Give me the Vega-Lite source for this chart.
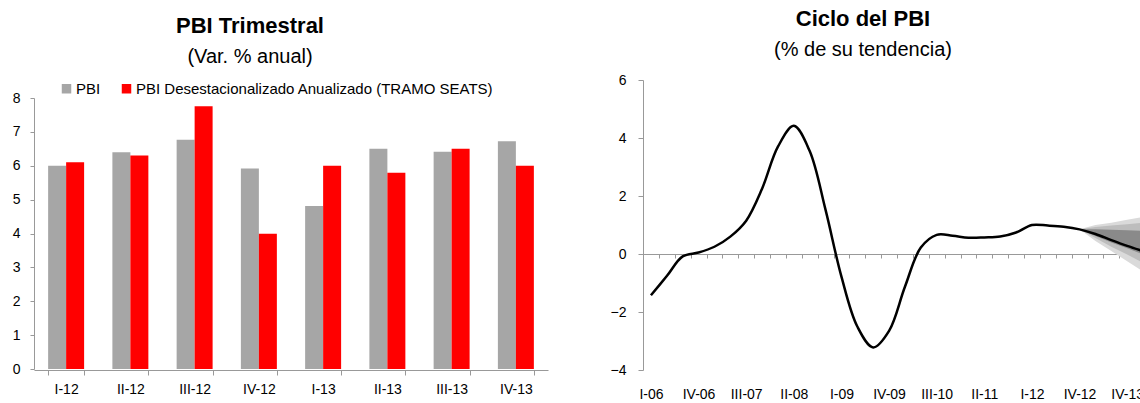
{
  "$schema": "https://vega.github.io/schema/vega-lite/v6.json",
  "background": "white",
  "padding": {"left": 12, "top": 8, "right": 0, "bottom": 0},
  "config": {
    "font": "Liberation Sans",
    "view": {"stroke": null},
    "axis": {"labelFont": "Liberation Sans", "labelFontSize": 14, "labelColor": "#000000", "domainColor": "#999999", "tickColor": "#999999", "grid": false, "title": null},
    "title": {"font": "Liberation Sans", "fontSize": 22, "fontWeight": "bold", "color": "#000000", "subtitleFont": "Liberation Sans", "subtitleFontSize": 20, "subtitleColor": "#000000", "subtitlePadding": 9},
    "legend": {"labelFont": "Liberation Sans"},
    "concat": {"spacing": 62}
  },
  "datasets": {
    "bars": [
      {"trimestre": "I-12", "serie": "PBI", "valor": 6.0},
      {"trimestre": "I-12", "serie": "PBI Desestacionalizado Anualizado (TRAMO SEATS)", "valor": 6.1},
      {"trimestre": "II-12", "serie": "PBI", "valor": 6.4},
      {"trimestre": "II-12", "serie": "PBI Desestacionalizado Anualizado (TRAMO SEATS)", "valor": 6.3},
      {"trimestre": "III-12", "serie": "PBI", "valor": 6.77},
      {"trimestre": "III-12", "serie": "PBI Desestacionalizado Anualizado (TRAMO SEATS)", "valor": 7.76},
      {"trimestre": "IV-12", "serie": "PBI", "valor": 5.92},
      {"trimestre": "IV-12", "serie": "PBI Desestacionalizado Anualizado (TRAMO SEATS)", "valor": 3.99},
      {"trimestre": "I-13", "serie": "PBI", "valor": 4.81},
      {"trimestre": "I-13", "serie": "PBI Desestacionalizado Anualizado (TRAMO SEATS)", "valor": 6.0},
      {"trimestre": "II-13", "serie": "PBI", "valor": 6.5},
      {"trimestre": "II-13", "serie": "PBI Desestacionalizado Anualizado (TRAMO SEATS)", "valor": 5.79},
      {"trimestre": "III-13", "serie": "PBI", "valor": 6.41},
      {"trimestre": "III-13", "serie": "PBI Desestacionalizado Anualizado (TRAMO SEATS)", "valor": 6.5},
      {"trimestre": "IV-13", "serie": "PBI", "valor": 6.72},
      {"trimestre": "IV-13", "serie": "PBI Desestacionalizado Anualizado (TRAMO SEATS)", "valor": 6.0}
    ],
    "ciclo": [
      {"t": 0, "v": -1.42}, {"t": 1, "v": -0.76}, {"t": 2, "v": -0.08}, {"t": 3, "v": 0.05},
      {"t": 4, "v": 0.25}, {"t": 5, "v": 0.6}, {"t": 6, "v": 1.15}, {"t": 7, "v": 2.25},
      {"t": 8, "v": 3.7}, {"t": 9, "v": 4.42}, {"t": 10, "v": 3.55}, {"t": 11, "v": 1.52},
      {"t": 12, "v": -0.78}, {"t": 13, "v": -2.5}, {"t": 14, "v": -3.22}, {"t": 15, "v": -2.65},
      {"t": 16, "v": -1.13}, {"t": 17, "v": 0.22}, {"t": 18, "v": 0.66}, {"t": 19, "v": 0.63},
      {"t": 20, "v": 0.56}, {"t": 21, "v": 0.57}, {"t": 22, "v": 0.6}, {"t": 23, "v": 0.74},
      {"t": 24, "v": 1.0}, {"t": 25, "v": 0.98}, {"t": 26, "v": 0.94}, {"t": 27, "v": 0.85},
      {"t": 28, "v": 0.69}, {"t": 29, "v": 0.48}, {"t": 30, "v": 0.28}, {"t": 31, "v": 0.1}
    ],
    "fan": [
      {"t": 27, "lo90": 0.85, "hi90": 0.85, "lo70": 0.85, "hi70": 0.85, "lo50": 0.85, "hi50": 0.85},
      {"t": 28, "lo90": 0.45, "hi90": 1.0, "lo70": 0.55, "hi70": 0.93, "lo50": 0.62, "hi50": 0.85},
      {"t": 29, "lo90": 0.1, "hi90": 1.08, "lo70": 0.25, "hi70": 0.98, "lo50": 0.4, "hi50": 0.84},
      {"t": 30, "lo90": -0.25, "hi90": 1.18, "lo70": -0.02, "hi70": 1.03, "lo50": 0.2, "hi50": 0.82},
      {"t": 31, "lo90": -0.6, "hi90": 1.28, "lo70": -0.3, "hi70": 1.08, "lo50": -0.02, "hi50": 0.8}
    ]
  },
  "hconcat": [
    {
      "width": 514,
      "height": 290,
      "title": {"text": "PBI Trimestral", "subtitle": "(Var. % anual)", "dx": -41, "offset": 12},
      "data": {"name": "bars"},
      "mark": {"type": "bar"},
      "encoding": {
        "x": {
          "field": "trimestre", "type": "nominal",
          "sort": ["I-12", "II-12", "III-12", "IV-12", "I-13", "II-13", "III-13", "IV-13"],
          "scale": {"paddingInner": 0.44, "paddingOuter": 0.22},
          "axis": {"labelAngle": 0, "tickBand": "extent", "tickSize": 5, "labelPadding": 7}
        },
        "xOffset": {"field": "serie", "type": "nominal", "sort": ["PBI", "PBI Desestacionalizado Anualizado (TRAMO SEATS)"]},
        "y": {
          "field": "valor", "type": "quantitative",
          "scale": {"domain": [0, 8], "nice": false, "range": [289, 18]},
          "axis": {"values": [0, 1, 2, 3, 4, 5, 6, 7, 8], "tickSize": 4, "labelPadding": 10}
        },
        "color": {
          "field": "serie", "type": "nominal",
          "scale": {"domain": ["PBI", "PBI Desestacionalizado Anualizado (TRAMO SEATS)"], "range": ["#A6A6A6", "#FF0000"]},
          "legend": {"orient": "none", "legendX": 25, "legendY": 1, "direction": "horizontal", "title": null, "symbolType": "square", "symbolSize": 90, "symbolStrokeWidth": 0, "labelFontSize": 15, "labelLimit": 0, "labelColor": "#000000", "columnPadding": 18, "labelOffset": 2}
        }
      }
    },
    {
      "width": 498,
      "height": 290,
      "title": {"text": "Ciclo del PBI", "subtitle": "(% de su tendencia)", "dx": -29, "offset": 12},
      "resolve": {"axis": {"x": "independent"}},
      "layer": [
        {
          "data": {"name": "fan"},
          "mark": {"type": "area", "clip": true, "color": "#DADADA"},
          "encoding": {
            "x": {
              "field": "t", "type": "quantitative",
              "scale": {"domain": [-0.5, 30.87], "nice": false, "zero": false},
              "axis": {"orient": "bottom", "offset": -116, "labels": false, "tickSize": 4,
                "values": [-0.5, 0.5, 1.5, 2.5, 3.5, 4.5, 5.5, 6.5, 7.5, 8.5, 9.5, 10.5, 11.5, 12.5, 13.5, 14.5, 15.5, 16.5, 17.5, 18.5, 19.5, 20.5, 21.5, 22.5, 23.5, 24.5, 25.5, 26.5, 27.5, 28.5, 29.5, 30.5]}
            },
            "y": {
              "field": "lo90", "type": "quantitative",
              "scale": {"domain": [-4, 6], "nice": false},
              "axis": {"values": [-4, -2, 0, 2, 4, 6], "tickSize": 5, "labelPadding": 12}
            },
            "y2": {"field": "hi90"}
          }
        },
        {
          "data": {"name": "fan"},
          "mark": {"type": "area", "clip": true, "color": "#BDBDBD"},
          "encoding": {
            "x": {"field": "t", "type": "quantitative", "axis": null},
            "y": {"field": "lo70", "type": "quantitative"},
            "y2": {"field": "hi70"}
          }
        },
        {
          "data": {"name": "fan"},
          "mark": {"type": "area", "clip": true, "color": "#8A8A8A"},
          "encoding": {
            "x": {"field": "t", "type": "quantitative", "axis": null},
            "y": {"field": "lo50", "type": "quantitative"},
            "y2": {"field": "hi50"}
          }
        },
        {
          "data": {"name": "ciclo"},
          "mark": {"type": "line", "clip": true, "color": "#000000", "strokeWidth": 2.5, "interpolate": "catmull-rom"},
          "encoding": {
            "x": {
              "field": "t", "type": "quantitative",
              "axis": {"orient": "bottom", "domain": false, "ticks": false, "labelPadding": 17, "labelFlush": false,
                "values": [0, 3, 6, 9, 12, 15, 18, 21, 24, 27, 30],
                "labelExpr": "['I-06','IV-06','III-07','II-08','I-09','IV-09','III-10','II-11','I-12','IV-12','IV-13'][round(datum.value / 3)]"}
            },
            "y": {"field": "v", "type": "quantitative"}
          }
        }
      ]
    }
  ]
}
